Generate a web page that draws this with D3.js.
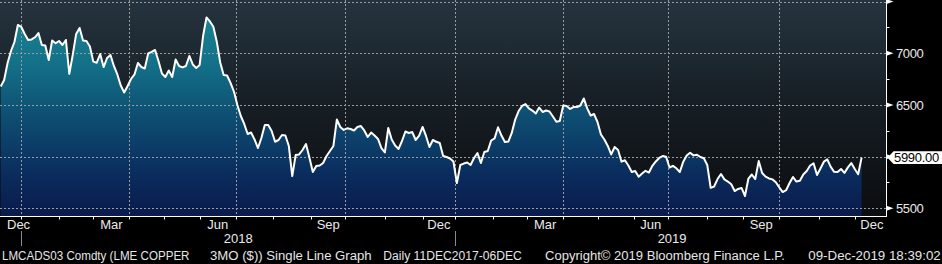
<!DOCTYPE html>
<html>
<head>
<meta charset="utf-8">
<script src="https://cdn.jsdelivr.net/npm/d3@7"></script>
<style>
  html, body { margin: 0; background: #000; }
  svg { display: block; font-family: "Liberation Sans", Arial, sans-serif; }
</style>
</head>
<body>
<svg id="chart" width="942" height="264"></svg>
<script>
// LME copper 3M close, one value every second session (12 Dec 2017 .. 06 Dec 2019)
var firstSession = "2017-12-11";
var lastSession = "2019-12-06";
var lmeHolidays = ["2017-12-25", "2017-12-26", "2018-01-01", "2018-03-30", "2018-04-02",
  "2018-05-07", "2018-05-28", "2018-08-27", "2018-12-25", "2018-12-26", "2019-01-01",
  "2019-04-19", "2019-04-22", "2019-05-06", "2019-05-27", "2019-08-26", "2019-12-25",
  "2019-12-26", "2020-01-01"];
var prices = [
  6679, 6742, 6906, 7022, 7109, 7274, 7255, 7187, 7129, 7134,
  7155, 7196, 7080, 7075, 6935, 7124, 7097, 7119, 7080, 7129,
  6800, 6984, 7187, 7245, 7124, 7119, 7066, 6919, 6909, 6993,
  6867, 6954, 6984, 6877, 6795, 6688, 6621, 6683, 6751, 6795,
  6906, 6867, 6853, 6998, 7013, 7032, 6925, 6804, 6771, 6834,
  6771, 6940, 6877, 6863, 6877, 6974, 6892, 6858, 6887, 7167,
  7346, 7308, 7257, 7112, 6911, 6790, 6785, 6713, 6630, 6500,
  6393, 6316, 6219, 6233, 6166, 6083, 6180, 6306, 6306, 6248,
  6144, 6161, 6209, 6204, 6103, 5812, 6016, 6021, 6064, 6122,
  5992, 5851, 5909, 5914, 5938, 6006, 6054, 6103, 6359, 6287,
  6258, 6274, 6267, 6253, 6287, 6296, 6253, 6190, 6233, 6204,
  6171, 6083, 6040, 6277, 6166, 6108, 6074, 6151, 6243, 6229,
  6238, 6161, 6204, 6287, 6200, 6093, 6161, 6144, 6132, 6006,
  5996, 5982, 5953, 5744, 5919, 5933, 5943, 5919, 5987, 6035,
  5938, 6045, 6054, 6156, 6177, 6284, 6204, 6141, 6146, 6229,
  6359, 6441, 6490, 6509, 6466, 6446, 6417, 6475, 6432, 6446,
  6437, 6388, 6338, 6345, 6495, 6490, 6461, 6480, 6480, 6495,
  6563, 6467, 6398, 6412, 6335, 6214, 6166, 6103, 6021, 6093,
  6064, 5951, 5965, 5914, 5851, 5861, 5806, 5837, 5863, 5846,
  5911, 5953, 5987, 6006, 5999, 5895, 5911, 5887, 5851, 5951,
  6011, 6038, 6012, 6018, 5996, 5984, 5919, 5698, 5711, 5783,
  5832, 5780, 5759, 5732, 5667, 5687, 5697, 5619, 5788, 5827,
  5783, 5957, 5841, 5806, 5789, 5780, 5752, 5702, 5657, 5675,
  5745, 5803, 5759, 5766, 5827, 5861, 5914, 5935, 5822, 5885,
  5951, 5974, 5901, 5853, 5851, 5880, 5843, 5896, 5938, 5880,
  5830, 5990
];
var lastPrice = 5990.00;
var yMajor = [5500, 6000, 6500, 7000, 7500];
var yLabels = [5500, 6500, 7000];
var yMinor = [5750, 6250, 6750, 7250];
var quarterLabels = ["Dec", "Mar", "Jun", "Sep"];
var years = [2018, 2019];
var footerTexts = ["LMCADS03 Comdty (LME COPPER", "3MO ($)) Single Line Graph",
  "Daily 11DEC2017-06DEC", "Copyright\u00a9 2019 Bloomberg Finance L.P.", "09-Dec-2019 18:39:02"];

// trading calendar
var parse = d3.utcParse("%Y-%m-%d"), fmt = d3.utcFormat("%Y-%m-%d");
var hol = new Set(lmeHolidays);
var sessions = d3.utcDays(parse(firstSession), parse("2020-02-01"))
  .filter(function(d) { return d.getUTCDay() % 6 !== 0 && !hol.has(fmt(d)); });
function sessionOf(date) {
  for (var i = 0; i < sessions.length; i++) if (sessions[i] >= date) return i;
  return sessions.length - 1;
}
var lastIdx = sessionOf(parse(lastSession));
var data = prices.map(function(v, k) { return { s: 2 * k + 1, v: v }; });

var W = 942, plotR = 886.5, plotB = 216.5;
var svg = d3.select("#chart");
var x = d3.scaleLinear().domain([0, lastIdx]).range([-1, 861.6]);
var y = d3.scaleLinear().domain([5500, 7500]).range([208.3, 1.6]);

var defs = svg.append("defs");
var bg = defs.append("linearGradient").attr("id", "bg")
  .attr("gradientUnits", "userSpaceOnUse").attr("x1", 0).attr("y1", 0).attr("x2", 0).attr("y2", plotB);
bg.append("stop").attr("offset", 0).attr("stop-color", "#25343f");
bg.append("stop").attr("offset", 0.5).attr("stop-color", "#161d23");
bg.append("stop").attr("offset", 1).attr("stop-color", "#0b0d10");
var fillG = defs.append("linearGradient").attr("id", "fillG")
  .attr("gradientUnits", "userSpaceOnUse").attr("x1", 0).attr("y1", 0).attr("x2", 0).attr("y2", plotB);
[[0, "#1a8997"], [0.3, "#137088"], [0.55, "#0d4c71"], [0.8, "#0a2d5e"], [1, "#0a1a4c"]].forEach(function(s) {
  fillG.append("stop").attr("offset", s[0]).attr("stop-color", s[1]);
});

svg.append("rect").attr("width", W).attr("height", 264).attr("fill", "#000");
svg.append("rect").attr("width", plotR).attr("height", plotB).attr("fill", "url(#bg)");

svg.append("path").datum(data)
  .attr("fill", "url(#fillG)")
  .attr("d", d3.area().x(function(d) { return x(d.s); }).y0(plotB).y1(function(d) { return y(d.v); }));

// grid
var quarterStarts = d3.utcMonths(parse("2018-01-01"), parse("2019-12-01"), 3).map(sessionOf);
var grid = svg.append("g").attr("stroke", "#9c9c9c").attr("stroke-width", 1).attr("stroke-dasharray", "2,2");
grid.selectAll("line.h").data(yMajor).enter().append("line")
  .attr("x1", 0).attr("x2", plotR)
  .attr("y1", function(d) { return Math.round(y(d)) + 0.5; })
  .attr("y2", function(d) { return Math.round(y(d)) + 0.5; });
grid.selectAll("line.v").data(quarterStarts).enter().append("line")
  .attr("y1", 0).attr("y2", plotB)
  .attr("x1", function(d) { return Math.round(x(d)) + 0.5; })
  .attr("x2", function(d) { return Math.round(x(d)) + 0.5; });

svg.append("path").datum(data)
  .attr("fill", "none").attr("stroke", "#fff").attr("stroke-width", 2).attr("stroke-linejoin", "round")
  .attr("d", d3.line().x(function(d) { return x(d.s); }).y(function(d) { return y(d.v); }));

// axes
svg.append("line").attr("x1", plotR).attr("x2", plotR).attr("y1", 0).attr("y2", plotB + 0.5)
  .attr("stroke", "#fff");
svg.append("line").attr("x1", 0).attr("x2", plotR).attr("y1", plotB).attr("y2", plotB)
  .attr("stroke", "#fff");

svg.selectAll("path.tri").data(yMajor).enter().append("path")
  .attr("fill", "#fff")
  .attr("d", function(d) { var t = y(d); return "M" + plotR + "," + (t - 2.5) + "L" + (plotR + 7) + "," + t + "L" + plotR + "," + (t + 2.5) + "Z"; });
svg.selectAll("line.minor").data(yMinor).enter().append("line")
  .attr("stroke", "#fff")
  .attr("x1", plotR).attr("x2", plotR + 3)
  .attr("y1", function(d) { return Math.round(y(d)) + 0.5; })
  .attr("y2", function(d) { return Math.round(y(d)) + 0.5; });
svg.selectAll("text.yl").data(yLabels).enter().append("text")
  .attr("x", 896).attr("y", function(d) { return y(d) + 4.7; })
  .attr("fill", "#eaeaea").attr("font-size", 13).attr("letter-spacing", -0.4)
  .text(function(d) { return d; });

// last price tag
var ly = y(lastPrice);
svg.append("path").attr("fill", "#fff")
  .attr("d", "M" + (plotR + 1) + "," + ly + "L" + (plotR + 7) + "," + (ly - 6.3) + "L" + W + "," + (ly - 6.3) +
    "L" + W + "," + (ly + 6.3) + "L" + (plotR + 7) + "," + (ly + 6.3) + "Z");
svg.append("text").attr("x", 894).attr("y", ly + 4.6).attr("fill", "#000").attr("font-size", 13)
  .attr("letter-spacing", -0.3).text(d3.format(".2f")(lastPrice));

// month ticks and labels
var months = d3.utcMonths(parse("2018-01-01"), parse("2020-01-01"));
svg.selectAll("line.mt").data(months.map(sessionOf)).enter().append("line")
  .attr("stroke", "#fff")
  .attr("x1", function(d) { return Math.round(x(d)) + 0.5; })
  .attr("x2", function(d) { return Math.round(x(d)) + 0.5; })
  .attr("y1", plotB).attr("y2", plotB + 3);
var labelMonths = [parse("2017-12-01")].concat(d3.utcMonths(parse("2018-01-01"), parse("2020-01-01"))
  .filter(function(d) { return d.getUTCMonth() % 3 === 2; }));
labelMonths.forEach(function(m, i) {
  var a = m < sessions[0] ? 0 : sessionOf(m);
  var b = sessionOf(d3.utcMonth.offset(m, 1));
  var t = svg.append("text").attr("y", 229.3).attr("fill", "#eaeaea").attr("font-size", 13)
    .attr("text-anchor", "middle").text(quarterLabels[i % 4]);
  var half = t.node().getComputedTextLength() / 2;
  t.attr("x", Math.max((x(a) + x(b)) / 2, half + 7));
});
years.forEach(function(yr) {
  var a = sessionOf(parse(yr + "-01-01")), b = sessionOf(parse((yr + 1) + "-01-01"));
  svg.append("text").attr("x", (x(a) + x(b)) / 2).attr("y", 242.7).attr("fill", "#eaeaea")
    .attr("font-size", 13).attr("text-anchor", "middle").text(yr);
  svg.append("line").attr("stroke", "#8a8a8a")
    .attr("x1", Math.round(x(a)) + 0.5).attr("x2", Math.round(x(a)) + 0.5)
    .attr("y1", 231).attr("y2", 246);
});

// footer
var footerSpans = [[2, 189.5], [210, 371.7], [383.3, 521.7], [545, 785], [808.3, 940.7]];
footerTexts.forEach(function(txt, i) {
  svg.append("text").attr("x", footerSpans[i][0]).attr("y", 260).attr("fill", "#e6e6e6")
    .attr("font-size", 12.5).attr("textLength", footerSpans[i][1] - footerSpans[i][0])
    .attr("lengthAdjust", "spacingAndGlyphs").text(txt);
});
</script>
</body>
</html>
